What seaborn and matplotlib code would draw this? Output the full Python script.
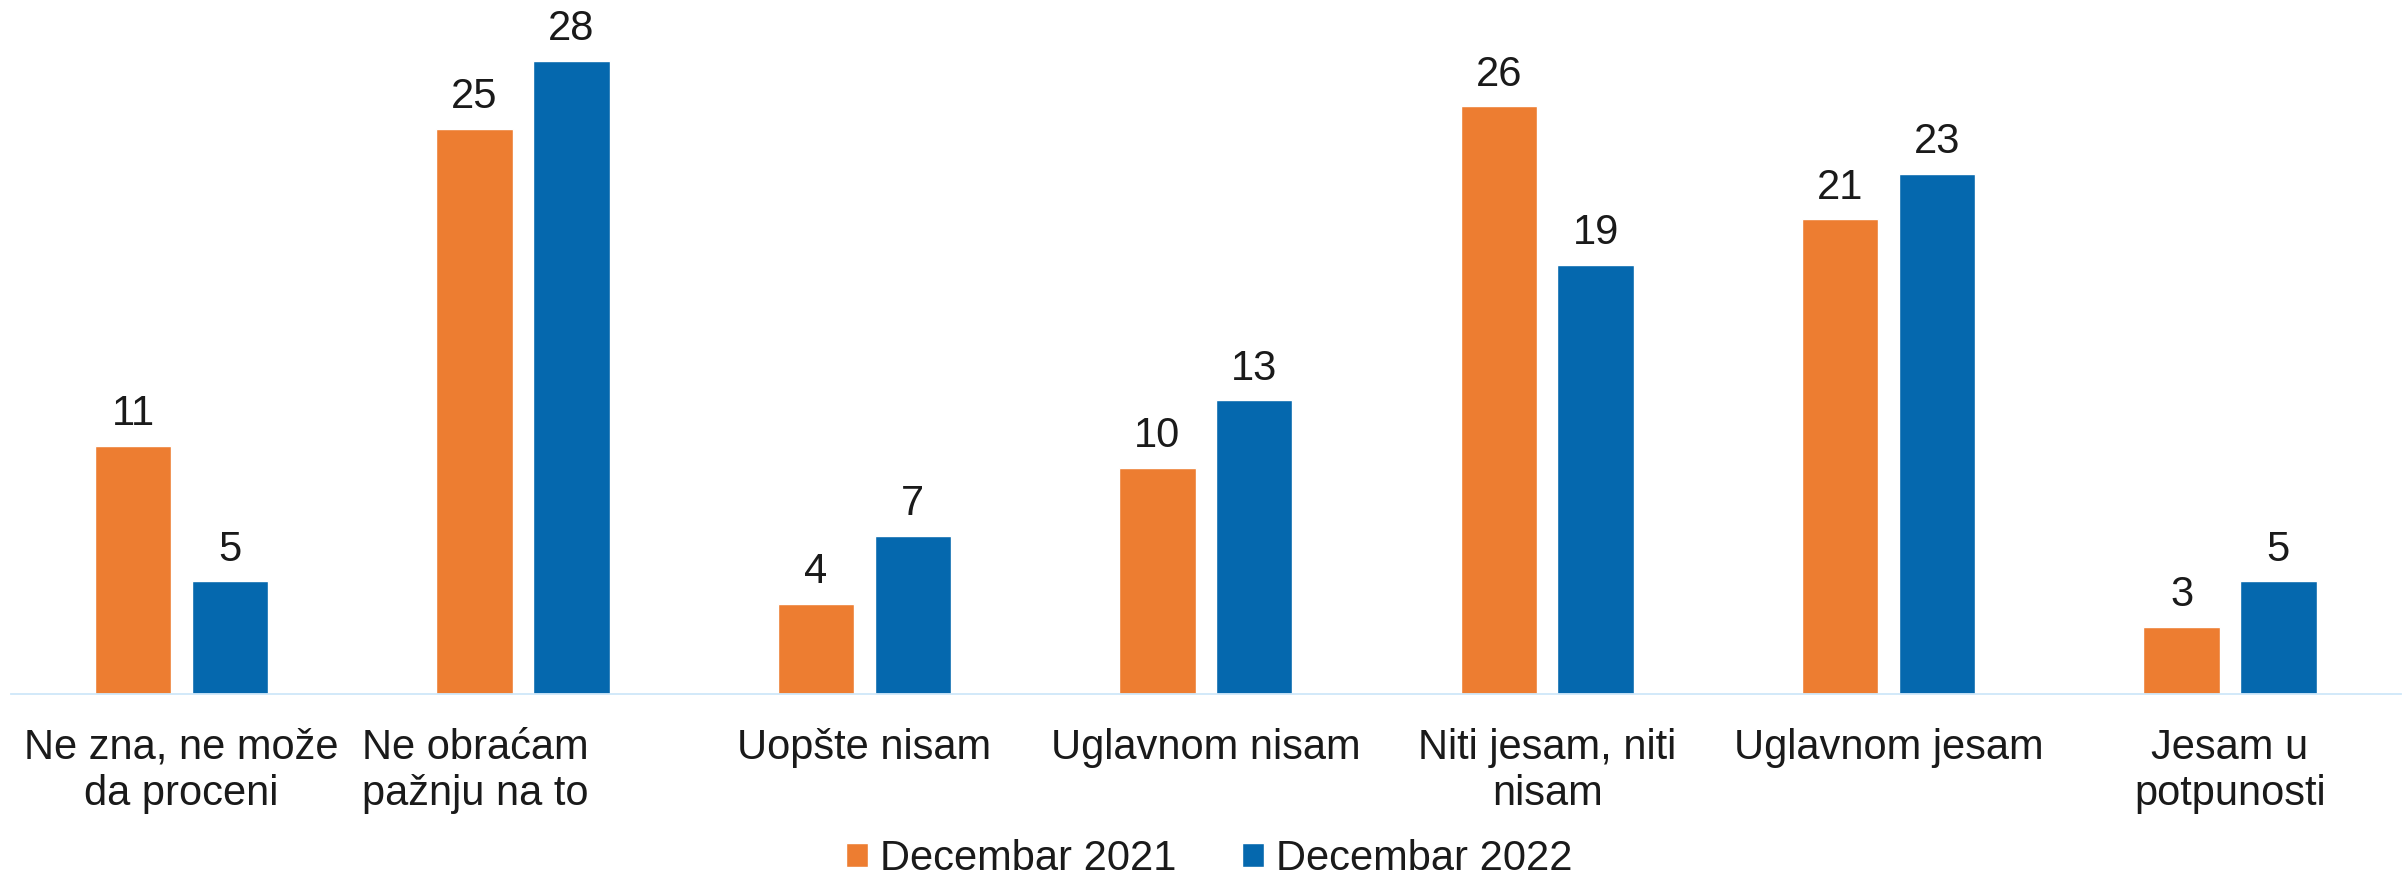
import matplotlib
matplotlib.use("Agg")
import matplotlib.pyplot as plt
import matplotlib.transforms as mtransforms
import seaborn as sns
import pandas as pd

# Survey answers (percent), two survey waves
categories = [
    "Ne zna, ne može\nda proceni",
    "Ne obraćam\npažnju na to",
    "Uopšte nisam",
    "Uglavnom nisam",
    "Niti jesam, niti\nnisam",
    "Uglavnom jesam",
    "Jesam u\npotpunosti",
]
series_names = ["Decembar 2021", "Decembar 2022"]
values_2021 = [11, 25, 4, 10, 26, 21, 3]
values_2022 = [5, 28, 7, 13, 19, 23, 5]
colors = ["#ED7D31", "#0568AE"]

df = pd.DataFrame({
    "kategorija": categories * 2,
    "talas": [series_names[0]] * len(categories) + [series_names[1]] * len(categories),
    "procenat": values_2021 + values_2022,
})

sns.set_theme(style="white")
plt.rcParams["font.family"] = ["Liberation Sans", "DejaVu Sans"]
text_color = "#1a1a1a"

fig = plt.figure(figsize=(24.04, 8.82), dpi=100)
ax = fig.add_axes([0.00453, 0.2126, 0.9941, 0.7874])

sns.barplot(
    data=df, x="kategorija", y="procenat", hue="talas",
    order=categories, hue_order=series_names, palette=colors,
    width=0.567, gap=0.21, errorbar=None, saturation=1.0, ax=ax,
)

for cont in ax.containers:
    ax.bar_label(cont, fmt="%d", padding=8.5, fontsize=30, color=text_color)

ax.set_xlim(-0.5, len(categories) - 0.5)
ax.set_ylim(0, 30.7)
ax.set_xlabel("")
ax.set_ylabel("")
ax.set_yticks([])
ax.tick_params(axis="x", length=0, pad=24, labelsize=30, labelcolor=text_color)
for lab in ax.get_xticklabels():
    lab.set_linespacing(1.2)

# the second category label sits a little left of its bar pair
shift = mtransforms.ScaledTranslation(-0.48, 0, fig.dpi_scale_trans)
lab2 = ax.get_xticklabels()[1]
lab2.set_transform(lab2.get_transform() + shift)

for side in ["top", "left", "right"]:
    ax.spines[side].set_visible(False)
ax.spines["bottom"].set_color("#CFE7F9")
ax.spines["bottom"].set_linewidth(1.3)

handles, labels = ax.get_legend_handles_labels()
if ax.get_legend() is not None:
    ax.get_legend().remove()
fig.legend(
    handles, labels, loc="lower center", bbox_to_anchor=(0.503, -0.02),
    ncol=2, frameon=False, fontsize=30, labelcolor=text_color,
    handlelength=0.53, handleheight=0.53, handletextpad=0.29,
    columnspacing=1.56, borderpad=0,
)

fig.savefig("out.png", dpi=100, facecolor="white")
